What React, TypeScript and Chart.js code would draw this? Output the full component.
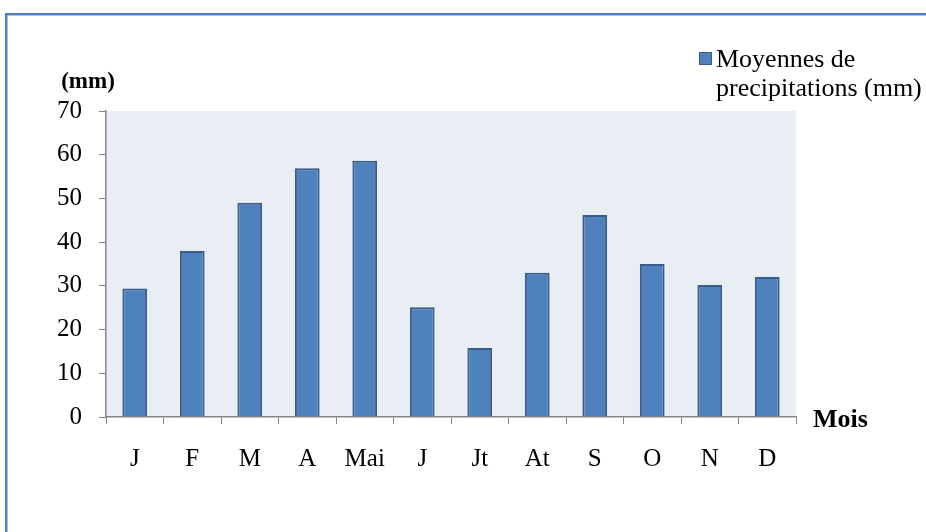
import React, { useEffect, useRef } from "react";
import { Chart, registerables } from "chart.js";

Chart.register(...registerables);

const months = ["J", "F", "M", "A", "Mai", "J", "Jt", "At", "S", "O", "N", "D"];
const precipitation = [29.4, 38, 49, 56.9, 58.6, 25.1, 15.8, 33, 46.2, 35, 30.2, 32];
const seriesLabel = ["Moyennes de", "precipitations (mm)"];
const yTitle = "(mm)";
const xTitle = "Mois";
const yMin = 0;
const yMax = 70;
const yStep = 10;

const SERIF = "'Liberation Serif', 'Times New Roman', serif";

const decorPlugin = {
  id: "decor",
  beforeDraw(chart: any) {
    const { ctx, chartArea } = chart;
    ctx.save();
    ctx.fillStyle = "#ffffff";
    ctx.fillRect(0, 0, chart.width, chart.height);
    ctx.strokeStyle = "#4f81bd";
    ctx.lineWidth = 2.5;
    ctx.strokeRect(6.25, 14.25, 1000, 1000);
    ctx.fillStyle = "#e9edf4";
    ctx.fillRect(chartArea.left, chartArea.top, chartArea.right - chartArea.left, chartArea.bottom - chartArea.top);
    ctx.restore();
  },
  afterDraw(chart: any) {
    const { ctx } = chart;
    ctx.save();
    ctx.fillStyle = "#000";
    ctx.textBaseline = "alphabetic";
    ctx.font = "bold 23px " + SERIF;
    ctx.textAlign = "center";
    ctx.fillText(yTitle, 88, 88);
    ctx.textAlign = "left";
    ctx.font = "bold 26px " + SERIF;
    ctx.fillText(xTitle, 813, 427);
    // legend
    ctx.fillStyle = "#4f81bd";
    ctx.fillRect(699, 52, 13, 13);
    ctx.strokeStyle = "#385d8a";
    ctx.lineWidth = 1;
    ctx.strokeRect(699.5, 52.5, 12, 12);
    ctx.fillStyle = "#000";
    ctx.font = "26px " + SERIF;
    ctx.fillText(seriesLabel[0], 716, 67);
    ctx.fillText(seriesLabel[1], 716, 96);
    ctx.restore();
  },
};

export default function App() {
  const ref = useRef<HTMLCanvasElement>(null);
  useEffect(() => {
    if (!ref.current) return;
    const chart = new Chart(ref.current, {
      type: "bar",
      data: {
        labels: months,
        datasets: [
          {
            label: seriesLabel.join(" "),
            data: precipitation,
            backgroundColor: "#4f81bd",
            borderColor: "#385d8a",
            borderWidth: 2,
            borderSkipped: "bottom",
            categoryPercentage: 1,
            barPercentage: 0.43,
          },
        ],
      },
      options: {
        animation: false,
        responsive: false,
        maintainAspectRatio: false,
        layout: { padding: { left: 0, right: 130, top: 111, bottom: 0 } },
        plugins: { legend: { display: false }, tooltip: { enabled: false }, title: { display: false } },
        scales: {
          x: {
            grid: { drawOnChartArea: false, drawTicks: true, tickLength: 7, color: "#868686", offset: true },
            border: { color: "#868686", width: 1.5 },
            ticks: { color: "#000", font: { family: SERIF, size: 25 }, padding: 20, maxRotation: 0, autoSkip: false },
            afterFit(scale: any) {
              scale.height = 115;
            },
          },
          y: {
            min: yMin,
            max: yMax,
            grid: { drawOnChartArea: false, drawTicks: true, tickLength: 7, color: "#868686" },
            border: { color: "#868686", width: 1.5 },
            ticks: { stepSize: yStep, color: "#000", font: { family: SERIF, size: 25 }, padding: 17 },
            afterFit(scale: any) {
              scale.width = 106;
            },
          },
        },
      },
      plugins: [decorPlugin],
    });
    return () => chart.destroy();
  }, []);
  return (
    <div style={{ position: "fixed", left: 0, top: 0, width: 926, height: 532, background: "#fff" }}>
      <canvas ref={ref} width={926} height={532} style={{ width: 926, height: 532 }} />
    </div>
  );
}
